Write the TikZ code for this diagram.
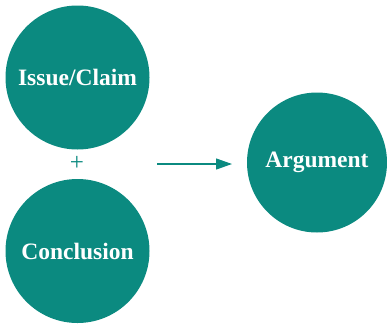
\documentclass[tikz,border=0pt]{standalone}
\usepackage{fontspec}
\setmainfont{Liberation Serif}
\usetikzlibrary{arrows.meta}
\definecolor{tealfill}{RGB}{11,138,128}
\tikzset{
	bubble/.style={circle, fill=tealfill, text=white, inner sep=0pt,
		font=\fontsize{23.5}{26}\selectfont\bfseries},
}

\begin{document}
\begin{tikzpicture}[x=1pt, y=-1pt]
		\useasboundingbox (0,0) rectangle (387,324);
		\node[bubble, minimum size=144pt] (claim) at (77.5, 77.5) {Issue/Claim};
		\node[bubble, minimum size=144pt] (conclusion) at (77.5, 251) {Conclusion};
		\node[bubble, minimum size=140pt] (argument) at (317, 162.5) {Argument};

		\node[text=tealfill, font=\fontsize{25}{28}\selectfont] (plus) at (77, 163) {+};

		\coordinate (arrowstart) at (157, 164);
		\coordinate (arrowend) at (232, 164);
		\draw[tealfill, line width=1.2pt, -{Triangle[length=16pt, width=11pt]}] (arrowstart) -- (arrowend);
	\end{tikzpicture}
\end{document}
